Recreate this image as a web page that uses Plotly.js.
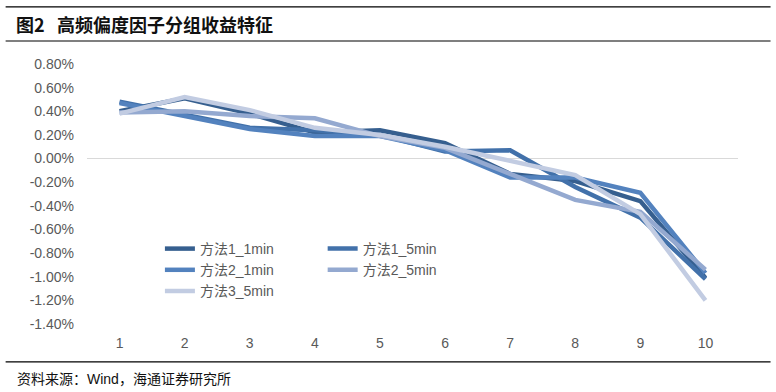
<!DOCTYPE html>
<html>
<head>
<meta charset="utf-8">
<script src="https://cdn.plot.ly/plotly-3.0.1.min.js"></script>
<style>html,body{margin:0;padding:0;background:#fff;}#chart{width:776px;height:392px;}</style>
</head>
<body>
<div id="chart"></div>
<script>
const groups = [1, 2, 3, 4, 5, 6, 7, 8, 9, 10];
const m1_1min = [0.40, 0.51, 0.38, 0.22, 0.24, 0.13, -0.13, -0.19, -0.36, -1.01];
const m1_5min = [0.48, 0.37, 0.26, 0.24, 0.20, 0.06, 0.07, -0.24, -0.50, -1.02];
const m2_1min = [0.47, 0.36, 0.25, 0.19, 0.19, 0.07, -0.16, -0.16, -0.29, -0.97];
const m2_5min = [0.39, 0.40, 0.36, 0.34, 0.19, 0.09, -0.13, -0.35, -0.45, -0.94];
const m3_5min = [0.38, 0.52, 0.41, 0.26, 0.20, 0.10, -0.02, -0.14, -0.47, -1.20];
const seriesNames = ['方法1_1min', '方法1_5min', '方法2_1min', '方法2_5min', '方法3_5min'];
const yTickVals = [0.8, 0.6, 0.4, 0.2, 0, -0.2, -0.4, -0.6, -0.8, -1.0, -1.2, -1.4];
const yTickText = ['0.80%', '0.60%', '0.40%', '0.20%', '0.00%', '-0.20%', '-0.40%', '-0.60%', '-0.80%', '-1.00%', '-1.20%', '-1.40%'];

const colors = ['#365F8F', '#4271AA', '#5382BE', '#94A9D0', '#C2CCE2'];
const legendOf = ['legend', 'legend2', 'legend', 'legend2', 'legend'];
const values = [m1_1min, m1_5min, m2_1min, m2_5min, m3_5min];

const data = values.map((v, i) => ({
  type: 'scatter', mode: 'lines', x: groups, y: v, name: seriesNames[i],
  line: {color: colors[i], width: 4.5},
  legend: legendOf[i], hoverinfo: 'skip'
}));

const font = {family: 'Liberation Sans, Arial, "Noto Sans CJK SC", sans-serif', size: 14, color: '#595959'};
const legendBase = {
  orientation: 'v', bgcolor: 'rgba(0,0,0,0)', font: font,
  xanchor: 'left', yanchor: 'top', traceorder: 'normal', itemwidth: 30, tracegroupgap: 0
};

const layout = {
  width: 776, height: 392,
  margin: {l: 86.5, r: 38.4, t: 64, b: 68},
  paper_bgcolor: '#fff', plot_bgcolor: '#fff',
  font: font,
  showlegend: true,
  xaxis: {
    range: [0.5, 10.5], tickvals: groups, showgrid: false, zeroline: false,
    showline: false, ticks: '', tickfont: font, ticklabelstandoff: 9
  },
  yaxis: {
    range: [-1.4, 0.8], tickvals: yTickVals, ticktext: yTickText,
    showgrid: false, zeroline: true, zerolinecolor: '#D9D9D9', zerolinewidth: 1.3,
    showline: false, ticks: '', tickfont: font, ticklabelstandoff: 12
  },
  legend: Object.assign({}, legendBase, {x: 0.112, y: 0.35}),
  legend2: Object.assign({}, legendBase, {x: 0.362, y: 0.35}),
  shapes: [
    {type: 'line', xref: 'paper', yref: 'paper', x0: -0.125, x1: 1.05, y0: 1.22, y1: 1.22, line: {color: '#000', width: 1.2}},
    {type: 'line', xref: 'paper', yref: 'paper', x0: -0.125, x1: 1.05, y0: 1.0885, y1: 1.0885, line: {color: '#000', width: 1.2}},
    {type: 'line', xref: 'paper', yref: 'paper', x0: -0.125, x1: 1.05, y0: -0.146, y1: -0.146, line: {color: '#000', width: 1.2}}
  ],
  annotations: [
    {xref: 'paper', yref: 'paper', x: -0.112, y: 1.155, xanchor: 'left', yanchor: 'middle', showarrow: false,
     text: '<b>图2&nbsp;&nbsp;&nbsp;高频偏度因子分组收益特征</b>',
     font: {family: '"Noto Sans CJK SC", Liberation Sans, sans-serif', size: 18, color: '#111'}},
    {xref: 'paper', yref: 'paper', x: -0.111, y: -0.21, xanchor: 'left', yanchor: 'middle', showarrow: false,
     text: '资料来源：Wind，海通证券研究所',
     font: {family: 'Liberation Sans, "Noto Sans CJK SC", sans-serif', size: 14, color: '#111'}}
  ]
};

Plotly.newPlot('chart', data, layout, {displayModeBar: false, staticPlot: true});
</script>
</body>
</html>
